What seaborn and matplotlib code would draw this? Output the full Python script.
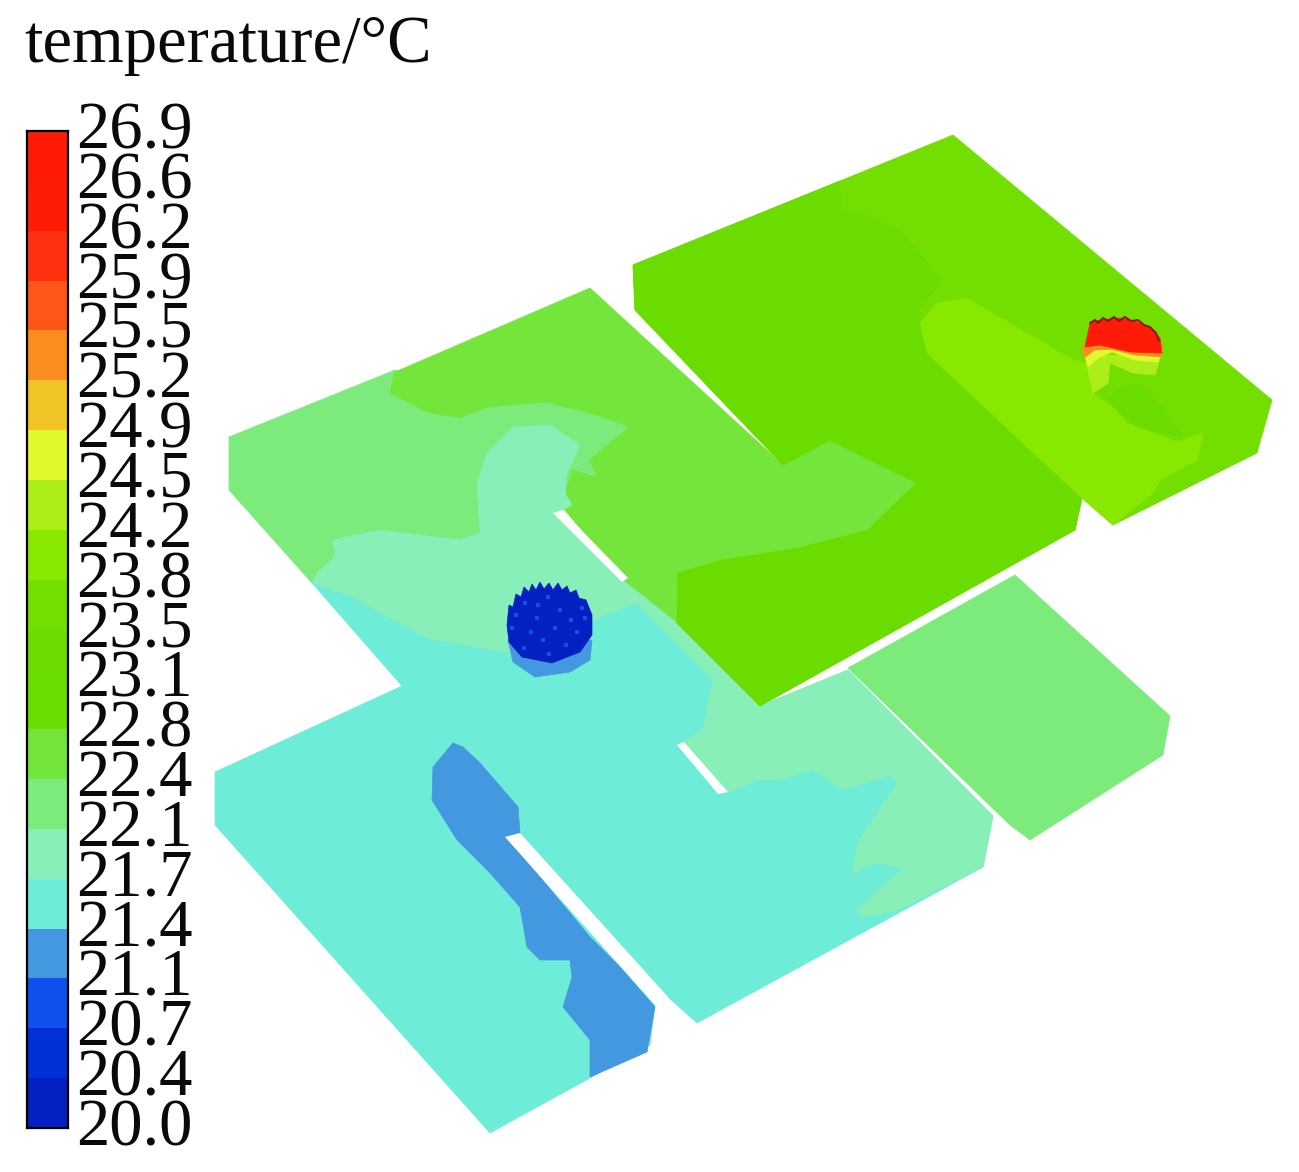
import numpy as np
import pandas as pd
import matplotlib
matplotlib.use("Agg")
import matplotlib.pyplot as plt
from matplotlib.colors import ListedColormap, BoundaryNorm
from matplotlib.transforms import ScaledTranslation
import seaborn as sns

# -----------------------------
# Legend levels and colours (bottom to top)
# -----------------------------
levels = [20.0, 20.4, 20.7, 21.1, 21.4, 21.7, 22.1, 22.4, 22.8, 23.1, 23.5,
          23.8, 24.2, 24.5, 24.9, 25.2, 25.5, 25.9, 26.2, 26.6, 26.9]
band_colors = ["#0420c0", "#0030d8", "#1050ee", "#4398e0", "#6decd8", "#88efb8",
               "#7ceb7c", "#74e53a", "#6ade00", "#6bdc00", "#72df00", "#88e800",
               "#aeee18", "#e2f82e", "#f0c424", "#fb8c1e", "#fe5518", "#fe3010",
               "#fe1c08", "#ff1a08"]

# -----------------------------
# Temperature regions (outline in image pixels, value in C)
# -----------------------------
far_slab = [(848, 668), (1015, 575), (1170, 716), (1163, 755), (1030, 840), (1010, 825)]
far_slab_t = 22.2

lower_base = [(312, 583), (402, 686), (215, 772), (215, 825), (490, 1133), (590, 1078),
              (650, 1045), (655, 1005), (505, 838), (520, 833), (668, 997), (697, 1023),
              (983, 867), (993, 816), (848, 670), (760, 706), (677, 623), (625, 582),
              (555, 512), (480, 500)]
lower_base_t = 21.5

lower_patch = [(713, 680), (760, 706), (848, 670), (993, 816), (983, 867), (898, 910),
               (863, 917), (857, 910), (903, 868), (877, 863), (852, 873), (858, 843),
               (880, 807), (897, 785), (893, 775), (843, 790), (813, 770), (780, 780),
               (760, 780), (727, 793), (677, 745), (703, 730)]
lower_patch_t = 21.9

left_light = [(229, 437), (395, 370), (600, 400), (632, 427), (640, 450), (610, 490),
              (565, 505), (562, 510), (553, 513), (480, 545), (340, 560), (335, 557),
              (317, 573), (312, 583), (229, 490)]
left_light_t = 22.3

left_top = [(390, 393), (395, 372), (590, 288), (783, 465), (830, 440), (917, 483),
            (868, 530), (800, 548), (723, 560), (678, 573), (677, 623), (625, 582),
            (563, 508), (572, 505), (565, 493), (573, 470), (597, 478), (590, 460),
            (613, 440), (630, 427), (597, 415), (545, 402), (487, 407), (460, 418),
            (427, 412)]
left_top_t = 22.6

mid_pale = [(312, 583), (317, 573), (335, 557), (333, 540), (380, 530), (460, 540),
            (480, 533), (477, 483), (487, 453), (513, 427), (550, 425), (580, 445),
            (567, 473), (565, 493), (572, 505), (562, 510), (625, 582), (677, 623),
            (760, 706), (713, 680), (637, 603), (593, 620), (592, 640), (505, 652),
            (427, 638), (390, 618), (353, 597)]
mid_pale_t = 21.9

upper_slab = [(633, 265), (953, 135), (1272, 400), (1257, 453), (1113, 525), (1082, 498),
              (1075, 530), (760, 706), (677, 623), (678, 573), (723, 560), (800, 548),
              (868, 530), (917, 483), (830, 440), (783, 465), (635, 310)]
upper_slab_t = 23.6

upper_dark = [(633, 265), (840, 181), (840, 210), (873, 217), (903, 233), (927, 263),
              (943, 280), (920, 307), (920, 323), (927, 353), (1027, 447), (1082, 498),
              (1075, 530), (760, 706), (677, 623), (678, 573), (723, 560), (800, 548),
              (868, 530), (917, 483), (830, 440), (783, 465), (635, 310)]
upper_dark_t = 23.3

wake_dark = [(1110, 397), (1118, 388), (1140, 384), (1160, 405), (1185, 437), (1143, 430),
             (1113, 407)]
wake_dark_t = 23.3

warm_band = [(920, 323), (937, 303), (967, 298), (987, 310), (1073, 360), (1085, 363),
             (1093, 393), (1113, 407), (1127, 423), (1177, 442), (1203, 433), (1197, 460),
             (1160, 480), (1153, 493), (1113, 525), (1082, 498), (1027, 447), (927, 353)]
warm_band_t = 24.0

cool_patch = [(453, 743), (433, 767), (432, 800), (457, 840), (490, 873), (520, 907),
              (527, 947), (540, 960), (570, 960), (572, 977), (563, 1007), (590, 1040),
              (590, 1077), (647, 1052), (655, 1007), (620, 967), (590, 937), (520, 853),
              (505, 837), (520, 833), (518, 807), (480, 763), (463, 747)]
cool_t = 21.2

# supply diffuser: skirt then jagged body
cold_skirt = [(508, 640), (592, 640), (590, 660), (570, 672), (535, 677), (513, 662)]
cold_skirt_t = 21.2
cold_disc = [(507, 625), (509, 605), (513, 607), (516, 594), (521, 597), (524, 587),
             (529, 592), (532, 584), (536, 590), (540, 582), (544, 589), (549, 583),
             (553, 590), (558, 583), (562, 590), (567, 586), (570, 593), (576, 590),
             (579, 598), (586, 600), (592, 615), (592, 635), (580, 652), (552, 663),
             (522, 657), (509, 642)]
cold_disc_t = 20.3

# specks of warmer air in the diffuser
speck_x = [525, 537, 560, 548, 531, 571, 582, 516, 543, 555, 566, 524, 577, 538, 549, 512, 585]
speck_y = [603, 618, 610, 597, 632, 620, 608, 615, 640, 628, 645, 648, 632, 605, 654, 628, 618]

# heat source: stacked bands, bottom first
hot_green = [(1085, 355), (1161, 355), (1155, 375), (1133, 373), (1110, 363), (1108, 383),
             (1093, 393), (1088, 372)]
hot_green_t = 24.3
hot_yellow = [(1083, 350), (1162, 350), (1158, 362), (1135, 360), (1112, 352), (1098, 358),
              (1088, 367)]
hot_yellow_t = 24.7
hot_orange = [(1082, 345), (1163, 345), (1161, 357), (1135, 355), (1110, 349), (1095, 350),
              (1084, 358)]
hot_orange_t = 25.3
hot_red = [(1085, 347), (1090, 323), (1100, 320), (1120, 318), (1135, 321), (1150, 328),
           (1160, 338), (1162, 353), (1130, 352), (1100, 345)]
hot_red_t = 26.4
hot_rim = [(1090, 323), (1095, 320), (1098, 323), (1103, 318), (1108, 321), (1114, 317),
           (1119, 321), (1125, 317), (1131, 321), (1138, 320), (1144, 325), (1150, 327),
           (1156, 333), (1159, 341)]

regions = [
    (far_slab, far_slab_t), (lower_base, lower_base_t), (lower_patch, lower_patch_t),
    (left_light, left_light_t), (left_top, left_top_t), (mid_pale, mid_pale_t),
    (upper_slab, upper_slab_t), (upper_dark, upper_dark_t), (wake_dark, wake_dark_t),
    (warm_band, warm_band_t), (cool_patch, cool_t), (cold_skirt, cold_skirt_t),
    (cold_disc, cold_disc_t), (hot_green, hot_green_t), (hot_yellow, hot_yellow_t),
    (hot_orange, hot_orange_t), (hot_red, hot_red_t),
]

# white gaps between the slabs
gaps = [
    [(553, 513), (562, 510), (628, 578), (622, 582)],
    [(677, 745), (684, 742), (728, 792), (718, 794)],
    [(505, 837), (520, 833), (668, 997), (655, 1005)],
]

# -----------------------------
# Figure
# -----------------------------
sns.set_theme(style="white")
plt.rcParams["font.family"] = ["Liberation Serif", "DejaVu Serif"]

W, H = 1299, 1172
fig = plt.figure(figsize=(W / 100, H / 100), dpi=100)

ax = fig.add_axes([0, 0, 1, 1])
ax.set_xlim(0, W)
ax.set_ylim(H, 0)
ax.axis("off")

cmap = ListedColormap(band_colors)
norm = BoundaryNorm(levels, cmap.N)

for outline, temp in regions:
    xs, ys = zip(*outline)
    ax.fill(xs, ys, color=cmap(norm(temp)), lw=0.5, zorder=2)

for gap in gaps:
    xs, ys = zip(*gap)
    ax.fill(xs, ys, color="white", lw=0, zorder=3)

specks = pd.DataFrame({"x": speck_x, "y": speck_y})
sns.scatterplot(data=specks, x="x", y="y", ax=ax, color=band_colors[2], s=8, marker="s",
                linewidth=0, zorder=4, legend=False)
ax.set_xlim(0, W)
ax.set_ylim(H, 0)
ax.axis("off")

rim_x, rim_y = zip(*hot_rim)
ax.plot(rim_x, rim_y, color="#8a1408", lw=1.4, zorder=4)

ax.text(24, 62, "temperature/°C", fontsize=48, color="#0a0a0a", ha="left", va="baseline")

# -----------------------------
# Colour legend
# -----------------------------
cax = fig.add_axes([27 / W, 1 - 1128 / H, 41 / W, 997 / H])
mids = (np.array(levels[:-1]) + np.array(levels[1:])) / 2
sns.heatmap(mids[::-1].reshape(-1, 1), ax=cax, cmap=cmap, norm=norm, cbar=False,
            xticklabels=False, yticklabels=False)
for side in cax.spines.values():
    side.set_visible(True)
    side.set_color("black")
    side.set_linewidth(1.6)
cax.yaxis.tick_right()
cax.set_yticks(np.arange(len(levels)))
cax.set_yticklabels([f"{v:.1f}" for v in levels[::-1]], rotation=0, fontsize=48, color="#0a0a0a")
cax.set_ylim(len(levels) - 1, 0)
cax.tick_params(axis="y", length=0, pad=6)

# labels sit a little above their band edge
nudge = ScaledTranslation(0, 6 / 100, fig.dpi_scale_trans)
for label in cax.get_yticklabels():
    label.set_transform(label.get_transform() + nudge)

fig.savefig("out.png", dpi=100)
